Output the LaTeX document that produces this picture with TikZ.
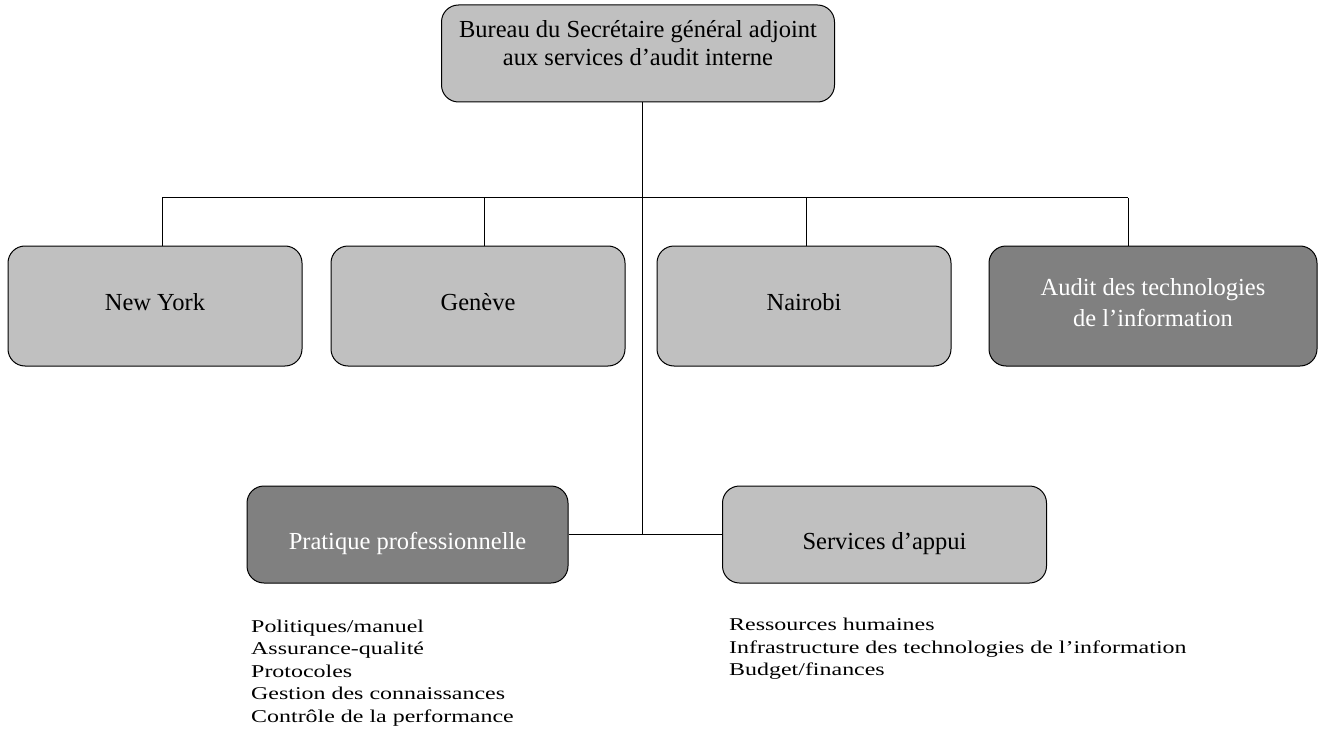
\documentclass[tikz,border=0pt]{standalone}
\usepackage{fontspec}
\setmainfont{Liberation Serif}
\newfontfamily\listfam[FakeStretch=1.33]{Liberation Serif}
\definecolor{lgray}{HTML}{C0C0C0}
\definecolor{dgray}{HTML}{808080}
\newcommand{\boxfont}{\fontsize{24.5}{31}\selectfont}
\newcommand{\topfont}{\fontsize{24.5}{28.7}\selectfont}
\newcommand{\listfont}{\listfam\fontsize{18}{22.4}\selectfont}
\begin{document}
\begin{tikzpicture}[x=1pt,y=-1pt,
  box/.style={draw=black, line width=1pt, rounded corners=17pt, align=center,
              font=\boxfont, inner sep=0pt},
  lightbox/.style={box, fill=lgray},
  darkbox/.style={box, fill=dgray, text=white},
  midrow/.style={minimum height=120pt, text height=12pt, text depth=2.8pt},
  lowrow/.style={minimum height=97pt, text height=32pt, text depth=2.8pt},
  conn/.style={draw=black, line width=1pt},
  listtext/.style={anchor=base west, align=left, font=\listfont, inner sep=0pt}]
\useasboundingbox (0,0) rectangle (1318,749);

% top box
\node[lightbox, font=\topfont, minimum width=393pt, minimum height=97pt,
      text height=28pt, text depth=3pt]
  (top) at (638,53.5) {Bureau du Secrétaire général adjoint\\aux services d’audit interne};

% middle row
\node[lightbox, midrow, minimum width=294pt] (ny) at (155,306) {New York};
\node[lightbox, midrow, minimum width=294pt] (ge) at (478,306) {Genève};
\node[lightbox, midrow, minimum width=294pt] (na) at (804,306) {Nairobi};
\node[darkbox, minimum width=328pt, minimum height=120pt, text height=44pt, text depth=2.8pt]
  (it) at (1153,306) {Audit des technologies\\de l’information};

% bottom row
\node[darkbox, lowrow, minimum width=321pt] (pp) at (407.5,534.5) {Pratique professionnelle};
\node[lightbox, lowrow, minimum width=324pt] (sa) at (884.5,534.5) {Services d’appui};

% lists (anchor at baseline of last line)
\node[listtext] (ppl) at (251,722) {Politiques/manuel\\Assurance-qualité\\Protocoles\\Gestion des connaissances\\Contrôle de la performance};
\node[listtext] (sal) at (729,675.5) {Ressources humaines\\Infrastructure des technologies de l’information\\Budget/finances};

% connectors
\coordinate (spine) at (642,534.5);
\coordinate (d1) at (162,198);
\coordinate (d2) at (484,198);
\coordinate (d3) at (806,198);
\coordinate (d4) at (1128,198);
\draw[conn] (top.south -| spine) -- (spine);
\draw[conn] (d1) -- (d4);
\draw[conn] (d1) -- (d1 |- ny.north);
\draw[conn] (d2) -- (d2 |- ge.north);
\draw[conn] (d3) -- (d3 |- na.north);
\draw[conn] (d4) -- (d4 |- it.north);
\draw[conn] (pp.east) -- (sa.west);
\end{tikzpicture}
\end{document}
